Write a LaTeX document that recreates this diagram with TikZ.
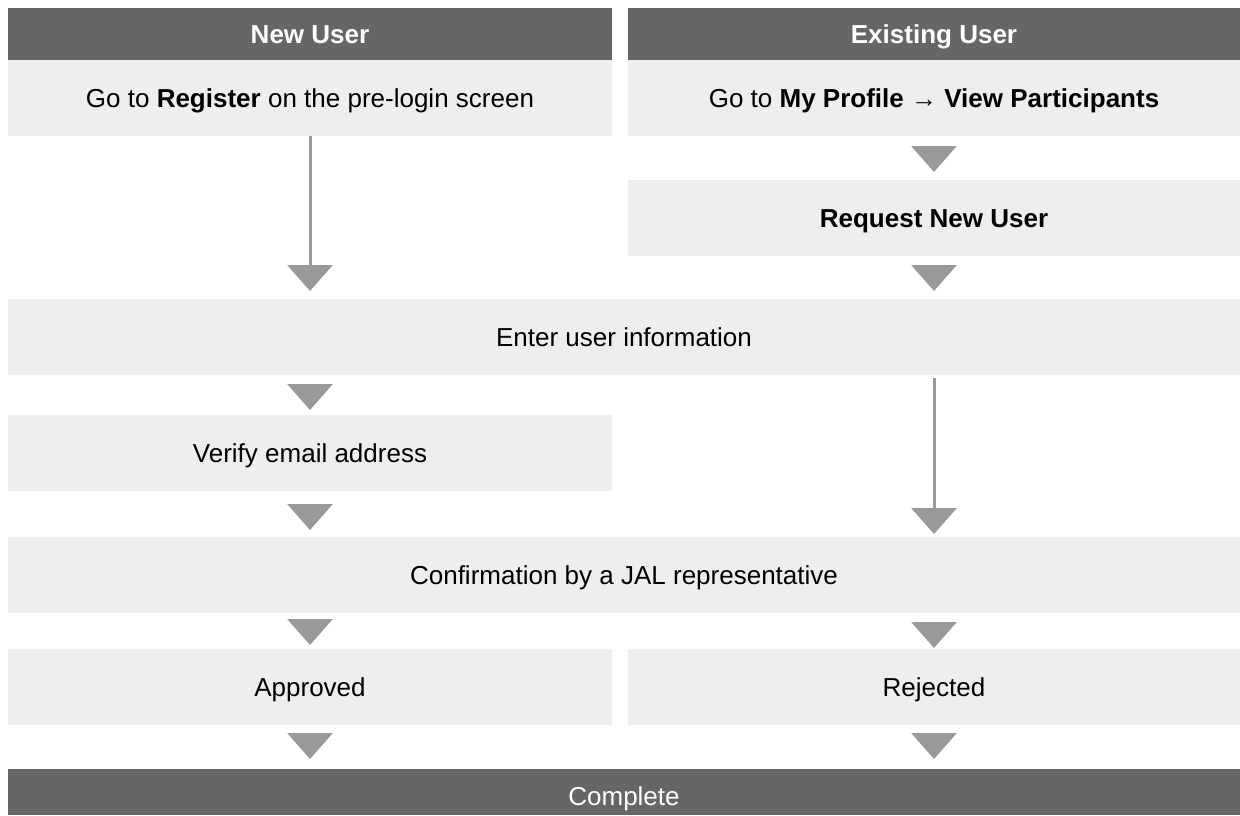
\documentclass[tikz,border=0pt]{standalone}
\usepackage{fontspec}
\setmainfont{Liberation Sans}
\usetikzlibrary{arrows.meta, calc}
\definecolor{headgray}{HTML}{666666}
\definecolor{boxgray}{HTML}{EEEEEE}
\definecolor{tipgray}{HTML}{999999}
\tikzstyle{header} = [
    rectangle,
    fill = headgray,
    text = white,
    minimum height = 1.04cm,
    text height = 10.6pt,
    text depth = 0pt,
    inner sep = 0pt,
    outer sep = 0pt,
    text centered,
]
\tikzstyle{stepbox} = [
    rectangle,
    fill = boxgray,
    minimum height = 1.52cm,
    text height = 10.6pt,
    text depth = 0pt,
    inner sep = 0pt,
    outer sep = 0pt,
    text centered,
]
\tikzstyle{pointer} = [
    draw = tipgray,
    line width = 0.06cm,
    -{Triangle[width = 0.9cm, length = 0.52cm]},
]
\tikzset{steparrow/.style 2 args = {pointer, shorten <= #1, shorten >= #2}}

\begin{document}
\begin{tikzpicture} [node distance = 1.28cm, font = \fontsize{14.8}{18}\selectfont]
    \useasboundingbox (0, 0) rectangle (24.8, -16.3);

    \node (NewUser) [header, font = \fontsize{14.8}{18}\selectfont\bfseries, minimum width = 12.08cm] at (6.2, -0.68) {New User};
    \node (ExistingUser) [header, font = \fontsize{14.8}{18}\selectfont\bfseries, minimum width = 12.24cm, right of = NewUser, node distance = 12.48cm] {Existing User};

    \node (Register) [stepbox, minimum width = 12.08cm, below of = NewUser] {Go to \textbf{Register} on the pre-login screen};
    \node (Profile) [stepbox, minimum width = 12.24cm, below of = ExistingUser] {Go to \textbf{My Profile → View Participants}};
    \node (Request) [stepbox, minimum width = 12.24cm, below of = Profile, node distance = 2.4cm] {\textbf{Request New User}};

    \node (Enter) [stepbox, minimum width = 24.64cm, below of = Register, node distance = 4.78cm, xshift = 6.28cm] {Enter user information};
    \node (Verify) [stepbox, minimum width = 12.08cm, below of = Enter, node distance = 2.32cm, xshift = -6.28cm] {Verify email address};
    \node (Confirm) [stepbox, minimum width = 24.64cm, below of = Enter, node distance = 4.76cm] {Confirmation by a JAL representative};

    \node (Approved) [stepbox, minimum width = 12.08cm, below of = Confirm, node distance = 2.24cm, xshift = -6.28cm] {Approved};
    \node (Rejected) [stepbox, minimum width = 12.24cm, right of = Approved, node distance = 12.48cm] {Rejected};

    \node (Complete) [header, minimum width = 24.64cm, minimum height = 0.92cm, text height = 15pt, below of = Confirm, node distance = 4.34cm] {Complete};

    % new user
    \draw[pointer, shorten >= 0.16cm] (Register) -- (Register.south |- Enter.north);
    \draw[steparrow = {0.18cm}{0.1cm}] (Enter.south -| Verify.north) -- (Verify.north);
    \draw[steparrow = {0.26cm}{0.14cm}] (Verify) -- (Verify.south |- Confirm.north);

    % existing user
    \draw[steparrow = {0.2cm}{0.16cm}] (Profile) -- (Request);
    \draw[steparrow = {0.18cm}{0.16cm}] (Request.south) -- (Request.south |- Enter.north);
    \draw[pointer, shorten <= 0.06cm, shorten >= 0.06cm] (Enter.south -| Request.south) -- (Request.south |- Confirm.north);

    % result
    \draw[steparrow = {0.12cm}{0.08cm}] (Confirm.south -| Approved.north) -- (Approved.north);
    \draw[steparrow = {0.18cm}{0.02cm}] (Confirm.south -| Rejected.north) -- (Rejected.north);
    \draw[steparrow = {0.16cm}{0.2cm}] (Approved) -- (Approved.south |- Complete.north);
    \draw[steparrow = {0.16cm}{0.2cm}] (Rejected) -- (Rejected.south |- Complete.north);
\end{tikzpicture}
\end{document}
